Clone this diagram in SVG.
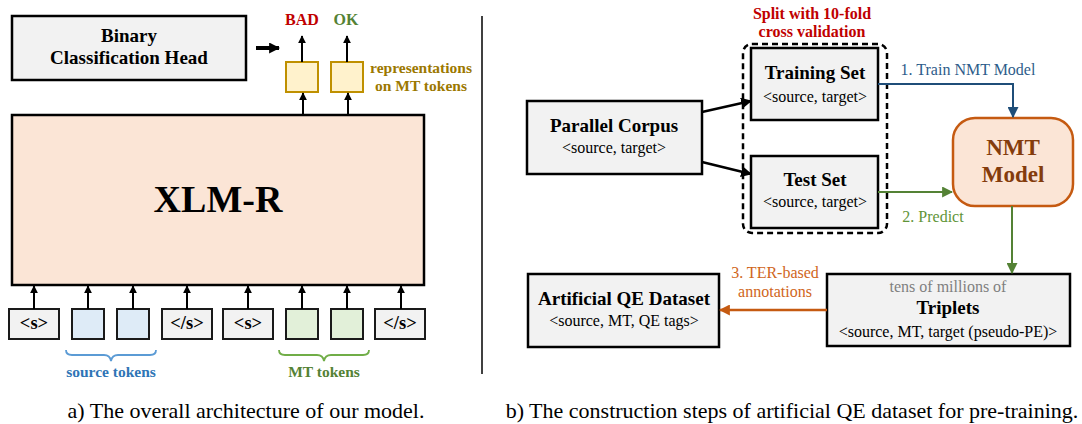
<svg xmlns="http://www.w3.org/2000/svg" width="1082" height="424" viewBox="0 0 1082 424">
<style>
text{font-family:"Liberation Serif","Times New Roman",serif;}
.b{font-weight:bold;}
.box{fill:#f2f2f2;stroke:#000;stroke-width:2.5;}
.tok{stroke:#1a1a1a;stroke-width:2;}
.ln{fill:none;stroke:#000;stroke-width:2;}
.t16{font-size:16px;}
.t19{font-size:19px;}
</style>
<defs>
<marker id="ak" viewBox="0 0 10 10" refX="9" refY="5" markerWidth="8" markerHeight="8" markerUnits="userSpaceOnUse" orient="auto"><path d="M0,0 L10,5 L0,10 z" fill="#000"/></marker>
<marker id="ak2" viewBox="0 0 10 10" refX="9" refY="5" markerWidth="11" markerHeight="11" markerUnits="userSpaceOnUse" orient="auto"><path d="M0,0 L10,5 L0,10 z" fill="#000"/></marker>
<marker id="ab" viewBox="0 0 10 10" refX="9" refY="5" markerWidth="11" markerHeight="11" markerUnits="userSpaceOnUse" orient="auto"><path d="M0,0 L10,5 L0,10 z" fill="#1f4e79"/></marker>
<marker id="ag" viewBox="0 0 10 10" refX="9" refY="5" markerWidth="11" markerHeight="11" markerUnits="userSpaceOnUse" orient="auto"><path d="M0,0 L10,5 L0,10 z" fill="#548235"/></marker>
<marker id="ao" viewBox="0 0 10 10" refX="9" refY="5" markerWidth="11" markerHeight="11" markerUnits="userSpaceOnUse" orient="auto"><path d="M0,0 L10,5 L0,10 z" fill="#c55a11"/></marker>
</defs>

<!-- Left panel -->
<g id="binary-head">
<rect class="box" x="12" y="16" width="234" height="64"/>
<text class="b t19" x="129" y="42" text-anchor="middle">Binary</text>
<text class="b t19" x="129" y="64" text-anchor="middle">Classification Head</text>
</g>
<g id="labels-out">
<text class="b" x="302" y="25" font-size="16" fill="#c00000" text-anchor="middle">BAD</text>
<text class="b" x="346" y="25" font-size="16" fill="#548235" text-anchor="middle">OK</text>
</g>
<g id="rep-boxes">
<rect x="286" y="62" width="32" height="30" fill="#fff2cc" stroke="#bf9000" stroke-width="2"/>
<rect x="331" y="62" width="32" height="30" fill="#fff2cc" stroke="#bf9000" stroke-width="2"/>
<text class="b" x="421" y="73" font-size="15.5" fill="#9c7800" text-anchor="middle">representations</text>
<text class="b" x="421" y="91" font-size="15.5" fill="#9c7800" text-anchor="middle">on MT tokens</text>
</g>
<g id="xlmr">
<rect x="12" y="115" width="412" height="170" fill="#fbe5d6" stroke="#000" stroke-width="2.5"/>
<text class="b" x="218" y="212" font-size="38" text-anchor="middle">XLM-R</text>
</g>
<g id="tokens">
<rect class="tok" x="9" y="309" width="50" height="30" fill="#f2f2f2"/>
<text class="b" x="34" y="329" font-size="18.5" text-anchor="middle">&lt;s&gt;</text>
<rect class="tok" x="72" y="309" width="32" height="30" fill="#deebf7"/>
<rect class="tok" x="117" y="309" width="32" height="30" fill="#deebf7"/>
<rect class="tok" x="162" y="309" width="50" height="30" fill="#f2f2f2"/>
<text class="b" x="187" y="329" font-size="18.5" text-anchor="middle">&lt;/s&gt;</text>
<rect class="tok" x="223" y="309" width="50" height="30" fill="#f2f2f2"/>
<text class="b" x="248" y="329" font-size="18.5" text-anchor="middle">&lt;s&gt;</text>
<rect class="tok" x="286" y="309" width="32" height="30" fill="#e2f0d9"/>
<rect class="tok" x="331" y="309" width="32" height="30" fill="#e2f0d9"/>
<rect class="tok" x="375" y="309" width="50" height="30" fill="#f2f2f2"/>
<text class="b" x="400" y="329" font-size="18.5" text-anchor="middle">&lt;/s&gt;</text>
</g>
<g id="braces">
<path d="M66,350 Q66,355 72,355 H104 Q110,355 111,361 Q112,355 118,355 H150 Q156,355 156,350" fill="none" stroke="#5b9bd5" stroke-width="1.8"/>
<text class="b" x="111" y="377" font-size="15.5" fill="#2e75b6" text-anchor="middle">source tokens</text>
<path d="M279,350 Q279,355 285,355 H317 Q323,355 324,361 Q325,355 331,355 H363 Q369,355 369,350" fill="none" stroke="#70ad47" stroke-width="1.8"/>
<text class="b" x="324" y="377" font-size="15.5" fill="#548235" text-anchor="middle">MT tokens</text>
</g>
<g id="connectors-left">
<line x1="256" y1="48" x2="279" y2="48" stroke="#000" stroke-width="4" marker-end="url(#ak2)"/>
<line class="ln" x1="302" y1="62" x2="302" y2="36" marker-end="url(#ak)"/>
<line class="ln" x1="347" y1="62" x2="347" y2="36" marker-end="url(#ak)"/>
<line class="ln" x1="303" y1="115" x2="303" y2="93" marker-end="url(#ak)"/>
<line class="ln" x1="348" y1="115" x2="348" y2="93" marker-end="url(#ak)"/>
<line class="ln" x1="34" y1="309" x2="34" y2="286" marker-end="url(#ak)"/>
<line class="ln" x1="88" y1="309" x2="88" y2="286" marker-end="url(#ak)"/>
<line class="ln" x1="133" y1="309" x2="133" y2="286" marker-end="url(#ak)"/>
<line class="ln" x1="187" y1="309" x2="187" y2="286" marker-end="url(#ak)"/>
<line class="ln" x1="248" y1="309" x2="248" y2="286" marker-end="url(#ak)"/>
<line class="ln" x1="302" y1="309" x2="302" y2="286" marker-end="url(#ak)"/>
<line class="ln" x1="347" y1="309" x2="347" y2="286" marker-end="url(#ak)"/>
<line class="ln" x1="401" y1="309" x2="401" y2="286" marker-end="url(#ak)"/>
</g>
<text x="246" y="418" font-size="22" text-anchor="middle">a) The overall architecture of our model.</text>

<line x1="482" y1="16" x2="482" y2="374" stroke="#000" stroke-width="1.5"/>

<!-- Right panel -->
<g id="split-label">
<text class="b t16" x="812" y="19" fill="#c00000" text-anchor="middle">Split with 10-fold</text>
<text class="b t16" x="812" y="37" fill="#c00000" text-anchor="middle">cross validation</text>
<rect x="743" y="44" width="144" height="189" rx="9" fill="none" stroke="#000" stroke-width="2.5" stroke-dasharray="6 4"/>
</g>
<g id="parallel-corpus">
<rect class="box" x="527" y="101" width="175" height="73"/>
<text class="b t19" x="614" y="132" text-anchor="middle">Parallel Corpus</text>
<text class="t16" x="614" y="153" text-anchor="middle">&lt;source, target&gt;</text>
</g>
<g id="training-set">
<rect class="box" x="751" y="48" width="127" height="72"/>
<text class="b t19" x="815" y="79" text-anchor="middle">Training Set</text>
<text class="t16" x="815" y="102" text-anchor="middle">&lt;source, target&gt;</text>
</g>
<g id="test-set">
<rect class="box" x="751" y="156" width="127" height="72"/>
<text class="b t19" x="815" y="186" text-anchor="middle">Test Set</text>
<text class="t16" x="815" y="207" text-anchor="middle">&lt;source, target&gt;</text>
</g>
<g id="nmt-model">
<rect x="953" y="118" width="120" height="88" rx="22" fill="#fbe5d6" stroke="#c55a11" stroke-width="2.5"/>
<text class="b" x="1013" y="155" font-size="23" fill="#843c0c" text-anchor="middle">NMT</text>
<text class="b" x="1013" y="182" font-size="23" fill="#843c0c" text-anchor="middle">Model</text>
</g>
<g id="triplets">
<rect class="box" x="827" y="274" width="243" height="72"/>
<text class="t16" x="948" y="292" fill="#7f7f7f" text-anchor="middle">tens of millions of</text>
<text class="b t19" x="948" y="314" text-anchor="middle">Triplets</text>
<text class="t16" x="948" y="337" text-anchor="middle">&lt;source, MT, target (pseudo-PE)&gt;</text>
</g>
<g id="artificial-qe">
<rect class="box" x="528" y="274" width="191" height="73"/>
<text class="b t19" x="624" y="305" text-anchor="middle">Artificial QE Dataset</text>
<text class="t16" x="624" y="326" text-anchor="middle">&lt;source, MT, QE tags&gt;</text>
</g>
<g id="connectors-right">
<line x1="702" y1="112" x2="751" y2="101" stroke="#000" stroke-width="2.5" marker-end="url(#ak2)"/>
<line x1="702" y1="162" x2="751" y2="174" stroke="#000" stroke-width="2.5" marker-end="url(#ak2)"/>
<path d="M878,84 H1013 V117" fill="none" stroke="#1f4e79" stroke-width="2" marker-end="url(#ab)"/>
<text class="t16" x="968" y="75" fill="#2e5c8a" text-anchor="middle">1. Train NMT Model</text>
<path d="M878,192 H952" fill="none" stroke="#548235" stroke-width="2" marker-end="url(#ag)"/>
<text class="t16" x="933" y="222" fill="#5f9438" text-anchor="middle">2. Predict</text>
<path d="M1012,206 V273" fill="none" stroke="#548235" stroke-width="2" marker-end="url(#ag)"/>
<path d="M827,310 H720" fill="none" stroke="#c55a11" stroke-width="2.5" marker-end="url(#ao)"/>
<text class="t16" x="775" y="278" fill="#d0651a" text-anchor="middle">3. TER-based</text>
<text class="t16" x="775" y="297" fill="#d0651a" text-anchor="middle">annotations</text>
</g>
<text x="792" y="418" font-size="22" text-anchor="middle">b) The construction steps of artificial QE dataset for pre-training.</text>
</svg>
